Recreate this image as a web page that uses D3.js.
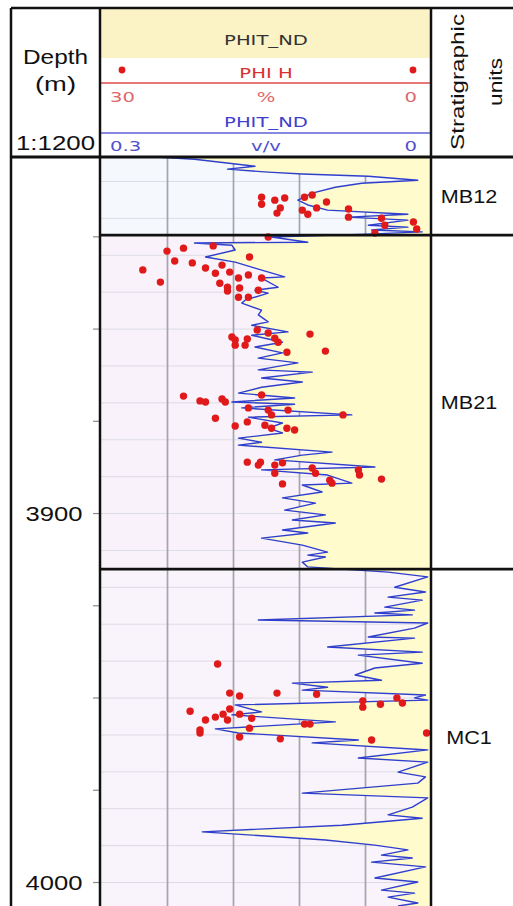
<!DOCTYPE html>
<html>
<head>
<meta charset="utf-8">
<script src="https://cdn.jsdelivr.net/npm/d3@7"></script>
<style>
  body { margin: 0; background: #fff; }
  svg { display: block; }
</style>
</head>
<body>
<svg id="svg" width="513" height="906"></svg>
<script>
// PHIT_ND log curve: depth (m) and total porosity (v/v)
const curveDepth = [
  3803.5,3804.1,3806.0,3806.8,3807.6,3808.1,3808.7,3809.8,3810.6,3811.7,3813.3,3815.2,3816.5,3817.9,3819.0,3819.8,3820.6,3822.0,3822.5,3823.3,3823.8,3824.4,
  3825.2,3826.6,3826.8,3827.4,3828.7,3830.6,3832.0,3833.6,3836.0,3836.3,3838.8,3839.6,3840.4,3842.3,3843.1,3845.0,3846.3,3848.2,3849.1,3850.9,
  3851.8,3853.7,3855.0,3856.6,3858.0,3859.3,3861.2,3861.8,3863.4,3864.5,3865.9,3867.5,3868.8,3869.9,3870.5,3871.5,3873.4,3874.0,3875.6,3877.0,
  3878.3,3879.7,3880.8,3881.6,3883.5,3884.3,3885.6,3887.5,3888.3,3889.7,3891.9,3892.4,3894.3,3895.9,3897.3,3899.2,3900.5,3901.9,3902.7,3904.6,
  3905.4,3906.8,3908.7,3910.6,3911.4,3911.9,3913.3,3914.6,
  3916.0,3917.3,3920.1,3921.4,3922.8,3923.6,3925.5,3926.3,3927.1,3927.6,3929.0,3929.8,3931.2,3933.6,3933.9,3936.3,3937.7,3938.5,3940.7,3942.0,
  3943.9,3945.3,3946.1,3947.2,3948.0,3949.3,3950.1,3950.7,3952.0,3953.9,3954.7,3956.6,3958.5,3959.6,3961.5,3962.3,3964.2,3966.4,3967.5,3970.2,
  3971.5,3973.2,3975.9,3977.2,3979.7,3981.8,3982.7,3984.6,3986.4,3988.6,3990.0,3991.3,3992.7,3993.5,3994.6,3995.9,3998.9,4000.0,4002.2,4003.0,
  4004.1,4005.7,4006.5
];
const curvePhit = [
  .250,.215,.160,.185,.148,.117,.057,.012,.063,.087,.108,.121,.112,.094,.021,.075,.021,.057,.021,.054,.008,.057,
  .145,.112,.215,.181,.178,.205,.178,.160,.133,.154,.139,.160,.148,.169,.172,.154,.157,.148,.163,.130,
  .163,.135,.160,.135,.157,.121,.157,.108,.154,.117,.154,.175,.124,.181,.124,.172,.072,.166,.135,.148,
  .135,.175,.154,.175,.090,.117,.142,.051,.154,.094,.072,.117,.099,.135,.105,.133,.096,.126,.087,.135,
  .112,.154,.117,.094,.112,.096,.117,.112,
  .039,.003,.033,.005,.039,.008,.042,.015,.051,.017,.157,.003,.015,.057,.015,.094,.008,.066,.008,.051,
  .069,.045,.126,.094,.117,.005,.015,.003,.178,.154,.181,.087,.196,.175,.066,.108,.003,.066,.003,.030,
  .005,.012,.117,.003,.017,.039,.008,.081,.208,.096,.051,.021,.045,.017,.054,.005,.051,.012,.045,.015,
  .039,.012,.030
];

// PHI H core measurements: depth (m) and porosity (%)
const coreDepth = [
  3814.4,3816.3,3815.2,3814.6,3817.3,3818.7,3814.4,3813.8,3815.7,3817.9,3819.0,3817.3,3817.6,3819.8,3820.1,3822.0,3821.1,3823.0,3824.1,
  3825.2,3827.6,3828.2,3829.0,3830.6,3831.7,3832.2,3834.1,3833.6,3832.8,3837.4,3835.0,3834.7,3836.3,3835.5,3836.3,3837.7,3838.8,3839.8,
  3839.0,3839.6,3841.5,3841.5,3850.4,3851.2,3851.5,3852.3,3853.1,3852.8,3852.6,3853.7,3854.5,3854.5,3856.4,3856.1,
  3868.3,3869.6,3869.9,3869.1,3869.9,3868.0,3871.5,3872.1,3872.1,3873.4,3873.4,3874.3,3875.3,3876.4,3876.2,3877.0,3877.0,3877.5,
  3886.2,3886.2,3887.0,3887.0,3886.4,3889.2,3887.8,3889.2,3888.3,3889.7,3890.8,3891.1,3891.9,3892.1,
  3940.9,3948.8,3949.6,3948.8,3949.1,3950.9,3952.6,3951.8,3950.1,3951.5,3953.7,3956.1,3955.3,3954.5,3953.1,3956.1,3954.5,3955.6,
  3958.8,3958.3,3957.2,3957.2,3959.6,3959.6,3960.7,3961.2,3961.5
];
const corePhi = [
  15.4,15.4,14.2,13.3,13.7,14.0,11.5,10.8,9.5,11.7,11.2,10.4,7.5,7.5,4.5,4.2,1.6,1.3,5.1,
  14.8,19.8,22.5,24.0,16.5,23.3,21.7,26.2,20.5,19.0,24.6,19.6,18.3,17.5,16.6,15.4,19.2,18.5,18.5,
  17.4,15.7,17.5,16.6,15.8,14.8,11.0,18.1,17.8,16.7,14.2,13.9,17.8,16.9,13.1,9.6,
  22.5,21.0,20.5,19.0,18.7,15.4,16.6,14.8,13.0,14.5,8.0,19.6,16.7,17.8,15.1,14.5,13.1,12.4,
  16.7,15.5,15.7,14.2,13.5,14.2,10.8,10.5,6.6,6.5,4.5,9.2,9.0,13.5,
  19.4,18.3,17.4,14.0,10.4,6.2,6.2,4.6,3.1,2.6,21.9,20.5,19.6,18.9,18.3,18.5,17.4,16.3,
  21.0,16.5,11.5,11.0,0.4,21.0,17.4,13.7,5.4
];

// stratigraphic units
const unitNames = ["MB12", "MB21", "MC1"];
const unitTops = [3803.5, 3824.7, 3915.2];
const unitBases = [3824.7, 3915.2, 4006.5];

const depthLabels = [3900, 4000];
const phitGrid = [0.24, 0.18, 0.12, 0.06];

let svg = d3.select("svg");
let trackL = 101, trackR = 431, headTop = 8, headBot = 157, H = 906;

let x = d3.scaleLinear().domain([0.3, 0]).range([trackL, trackR]);
let xp = d3.scaleLinear().domain([30, 0]).range([trackL, trackR]);
let y = d3.scaleLinear().domain([3803.5, 4006.5]).range([headBot, H]);

let logData = curveDepth.map((d, i) => ({ depth: d, v: curvePhit[i] }));
let coreData = coreDepth.map((d, i) => ({ depth: d, v: corePhi[i] }));
let units = unitNames.map((n, i) => ({ name: n, top: unitTops[i], base: unitBases[i] }));

// stretch text horizontally (the original picture is a bit wider than tall)
function stretch(sel, k, len) {
  sel.each(function() {
    let w = len || this.getComputedTextLength() * k;
    d3.select(this).attr("textLength", w).attr("lengthAdjust", "spacingAndGlyphs");
  });
}

// track backgrounds
let zoneFill = { MB12: "#f5f9fd", MB21: "#faf2fb", MC1: "#f9f3fb" };
svg.append("g").selectAll("rect")
  .data(units)
  .enter().append("rect")
    .attr("x", trackL)
    .attr("y", d => y(d.top))
    .attr("width", trackR - trackL)
    .attr("height", d => y(d.base) - y(d.top))
    .attr("fill", d => zoneFill[d.name]);

// horizontal grid every 10 m
let hgrid = svg.append("g")
  .attr("transform", "translate(" + trackL + ",0)")
  .call(d3.axisLeft(y).tickValues(d3.range(3810, 4010, 10)).tickSize(-(trackR - trackL)).tickFormat(""));
hgrid.select(".domain").remove();
hgrid.selectAll("line").attr("stroke", "#dcdce4").attr("stroke-width", 1);

// vertical grid
let vgrid = svg.append("g")
  .attr("transform", "translate(0," + headBot + ")")
  .call(d3.axisBottom(x).tickValues(phitGrid).tickSize(H - headBot).tickFormat(""));
vgrid.select(".domain").remove();
vgrid.selectAll("line").attr("stroke", "#a4a4ae").attr("stroke-width", 1.7);

// yellow fill between curve and 0
let area = d3.area()
  .y(d => y(d.depth))
  .x0(d => x(d.v))
  .x1(x(0));
svg.append("path")
  .datum(logData)
  .attr("fill", "#fffbcc")
  .attr("d", area);

// PHIT_ND curve
let line = d3.line()
  .x(d => x(d.v))
  .y(d => y(d.depth));
svg.append("path")
  .datum(logData)
  .attr("fill", "none")
  .attr("stroke", "#2f3fcc")
  .attr("stroke-width", 1.4)
  .attr("stroke-linejoin", "round")
  .attr("d", line);

// PHI H points
svg.append("g").selectAll("circle")
  .data(coreData)
  .enter().append("circle")
    .attr("cx", d => xp(d.v))
    .attr("cy", d => y(d.depth))
    .attr("r", 3.7)
    .attr("fill", "#e01a1a");

// depth ticks and labels
let dax = svg.append("g")
  .attr("transform", "translate(100,0)")
  .call(d3.axisLeft(y).tickValues(d3.range(3825, 4006, 25)).tickSize(7)
    .tickFormat(d => depthLabels.includes(d) ? d : ""));
dax.select(".domain").remove();
dax.selectAll("line").attr("stroke", "#8a8a8a").attr("stroke-width", 1.2);
dax.selectAll("text")
  .attr("x", -46)
  .attr("dy", "0.36em")
  .attr("text-anchor", "middle")
  .attr("font-family", "Liberation Sans, Arial, sans-serif")
  .attr("font-size", 21)
  .attr("fill", "#111")
  .call(stretch, 1.22);

// header: yellow band and texts
svg.append("rect")
  .attr("x", trackL).attr("y", headTop)
  .attr("width", trackR - trackL).attr("height", 58 - headTop)
  .attr("fill", "#fbf3c6");

let mid = (trackL + trackR) / 2;
function headText(txt, xx, yy, col, anchor) {
  return svg.append("text")
    .attr("x", xx).attr("y", yy)
    .attr("text-anchor", anchor || "middle")
    .attr("font-family", "DejaVu Sans, Verdana, sans-serif")
    .attr("font-size", 14)
    .attr("fill", col)
    .text(txt)
    .call(stretch, 1.4);
}
headText("PHIT_ND", mid, 45, "#333");
headText("PHI H", mid, 78, "#d83030");
headText("30", 110, 102, "#e06868", "start");
headText("%", mid, 102, "#e06868");
headText("0", 417, 102, "#e06868", "end");
headText("PHIT_ND", mid, 127, "#4040cc");
headText("0.3", 110, 151, "#5050cc", "start");
headText("v/v", mid, 151, "#5050cc");
headText("0", 417, 151, "#5050cc", "end");

svg.append("circle").attr("cx", 122).attr("cy", 70).attr("r", 3.4).attr("fill", "#e01a1a");
svg.append("circle").attr("cx", 413).attr("cy", 70).attr("r", 3.4).attr("fill", "#e01a1a");
svg.append("line").attr("x1", trackL).attr("x2", trackR).attr("y1", 83).attr("y2", 83)
  .attr("stroke", "#e04a4a").attr("stroke-width", 1.6);
svg.append("line").attr("x1", trackL).attr("x2", trackR).attr("y1", 133).attr("y2", 133)
  .attr("stroke", "#6060d8").attr("stroke-width", 1.4);

// depth column header
let dcol = 55.5;
[["Depth", 64, 65], ["(m)", 91, 41], ["1:1200", 150, 79]].forEach(t => {
  svg.append("text")
    .attr("x", dcol).attr("y", t[1])
    .attr("text-anchor", "middle")
    .attr("font-family", "Liberation Sans, Arial, sans-serif")
    .attr("font-size", 20)
    .attr("fill", "#111")
    .text(t[0])
    .call(stretch, 1, t[2]);
});

// stratigraphic units header
[["Stratigraphic", 464, 136], ["units", 502, 48]].forEach(t => {
  svg.append("text")
    .attr("transform", "translate(" + t[1] + ",82) rotate(-90)")
    .attr("text-anchor", "middle")
    .attr("font-family", "Liberation Sans, Arial, sans-serif")
    .attr("font-size", 19)
    .attr("fill", "#111")
    .text(t[0])
    .call(stretch, 1, t[2]);
});

// unit labels
svg.append("g").selectAll("text")
  .data(units)
  .enter().append("text")
    .attr("x", 469)
    .attr("y", d => (y(d.top) + y(d.base)) / 2)
    .attr("dy", "0.36em")
    .attr("text-anchor", "middle")
    .attr("font-family", "Liberation Sans, Arial, sans-serif")
    .attr("font-size", 18)
    .attr("fill", "#111")
    .text(d => d.name)
    .call(stretch, 1.2);

// frame lines
let frame = svg.append("g").attr("stroke", "#111");
frame.append("line").attr("x1", 11).attr("x2", 513).attr("y1", headTop).attr("y2", headTop).attr("stroke-width", 2.5);
frame.append("line").attr("x1", 11).attr("x2", 513).attr("y1", headBot).attr("y2", headBot).attr("stroke-width", 3);
[11, 100, trackR].forEach(xx => {
  frame.append("line").attr("x1", xx).attr("x2", xx).attr("y1", headTop).attr("y2", H).attr("stroke-width", 2.5);
});
units.slice(1).forEach(u => {
  frame.append("line").attr("x1", 100).attr("x2", 513)
    .attr("y1", y(u.top)).attr("y2", y(u.top)).attr("stroke-width", 2.8);
});
</script>
</body>
</html>
